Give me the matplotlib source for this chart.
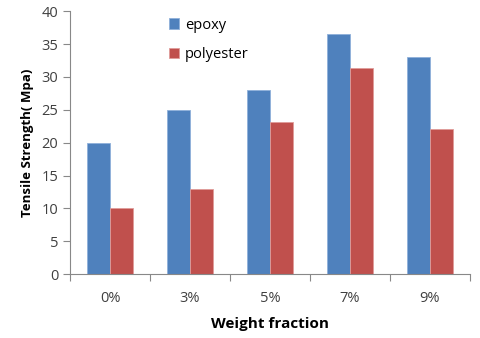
import numpy as np
import matplotlib.pyplot as plt

plt.rcParams['font.family'] = ['Open Sans', 'DejaVu Sans']

categories = ["0%", "3%", "5%", "7%", "9%"]
epoxy = [20, 25, 28, 36.6, 33]
polyester = [10, 13, 23.1, 31.3, 22]

fig = plt.figure(figsize=(4.8, 3.38), dpi=100)
ax = fig.add_axes([0.146, 0.189, 0.833, 0.778])

x = np.arange(len(categories))
w = 0.29
ax.bar(x - w / 2, epoxy, w, color="#4F81BD", edgecolor="#8FB0DA", linewidth=0.6, label="epoxy")
ax.bar(x + w / 2, polyester, w, color="#C0504D", edgecolor="#E09C9A", linewidth=0.6, label="polyester")

ax.set_xlim(-0.5, len(categories) - 0.5)
ax.set_ylim(0, 40)
ax.set_yticks(range(0, 41, 5))

# category labels between boundary ticks (Excel style)
ax.set_xticks(np.arange(-0.5, len(categories), 1))
ax.set_xticklabels([])
ax.set_xticks(x, minor=True)
ax.set_xticklabels(categories, minor=True)
ax.tick_params(axis="x", which="minor", length=0, pad=12, labelsize=10.5, colors="#404040")
ax.tick_params(axis="x", which="major", length=5, color="#888888")
ax.tick_params(axis="y", length=5, color="#888888", labelsize=10.5, labelcolor="#404040")

for s in ["top", "right"]:
    ax.spines[s].set_visible(False)
for s in ["left", "bottom"]:
    ax.spines[s].set_color("#888888")

ax.set_xlabel("Weight fraction", fontsize=11, fontweight="bold", labelpad=8)
ax.set_ylabel("Tensile Strength( Mpa)", fontsize=9.5, fontweight="bold", labelpad=5)

ax.legend(loc="upper left", bbox_to_anchor=(0.215, 1.025), frameon=False,
          fontsize=10.5, handlelength=0.7, handleheight=0.7, handletextpad=0.4,
          labelspacing=1.0)

fig.savefig("out.png", dpi=100)
